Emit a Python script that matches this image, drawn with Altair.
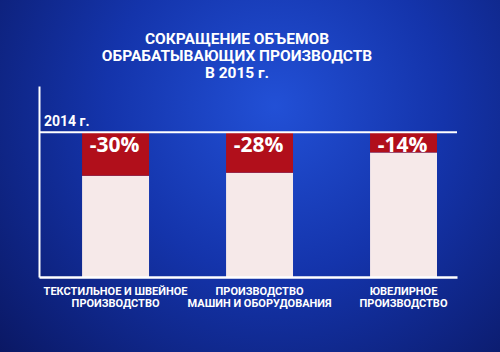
import altair as alt
import pandas as pd

categories = [
    "ТЕКСТИЛЬНОЕ И ШВЕЙНОЕ\nПРОИЗВОДСТВО",
    "ПРОИЗВОДСТВО\nМАШИН И ОБОРУДОВАНИЯ",
    "ЮВЕЛИРНОЕ\nПРОИЗВОДСТВО",
]
decline = [30, 28, 14]          # % reduction vs 2014
labels = ["-30%", "-28%", "-14%"]
title_lines = ["СОКРАЩЕНИЕ ОБЪЕМОВ", "ОБРАБАТЫВАЮЩИХ ПРОИЗВОДСТВ", "В 2015 г."]
base_label = "2014 г."

df = pd.DataFrame({"cat": categories, "drop": decline, "label": labels})

W, H = 418, 191
FONT = "Roboto"
CREAM = "#f6e9e9"
RED = "#b10f1b"

x_enc = alt.X(
    "cat:N",
    sort=categories,
    scale=alt.Scale(paddingInner=0.535, paddingOuter=0.219, align=0.683),
    axis=alt.Axis(
        title=None, labelAngle=0, ticks=False, domainColor="white", domainWidth=2.5,
        labelColor="white", labelFont=FONT, labelFontWeight="bold", labelFontSize=11,
        labelLineHeight=11.5, labelPadding=8.5, labelExpr="split(datum.value, '\\n')",
        zindex=2,
    ),
)
y_scale = alt.Scale(domain=[0, 132], nice=False)
y_axis = alt.Axis(title=None, labels=False, ticks=False, grid=False,
                  domainColor="white", domainWidth=2, zindex=2)

base = alt.Chart(df).transform_calculate(remain="100 - datum.drop")

bg = alt.Chart(alt.Data(values=[{}])).mark_rect(
    color=alt.RadialGradient(
        gradient="radial", x1=0.55, y1=0.36, r1=0.0, x2=0.55, y2=0.36, r2=0.75,
        stops=[
            alt.GradientStop(offset=0, color="#2250d6"),
            alt.GradientStop(offset=0.45, color="#1434ab"),
            alt.GradientStop(offset=1, color="#0a1762"),
        ],
    )
).encode(x=alt.value(-39), x2=alt.value(461), y=alt.value(-86), y2=alt.value(266))

white = base.mark_bar(color=CREAM).encode(
    x=x_enc, y=alt.Y("remain:Q", scale=y_scale, axis=y_axis), y2=alt.datum(0)
)
red = base.mark_bar(color=RED).encode(
    x=x_enc, y=alt.Y("remain:Q", scale=y_scale, axis=y_axis), y2=alt.datum(100)
)
pct = base.mark_text(
    color="white", font="Open Sans", fontWeight="bold", fontSize=21,
    baseline="alphabetic", dy=19.5, dx=-1,
).encode(x=x_enc, y=alt.datum(100), text="label:N")

top_rule = alt.Chart(alt.Data(values=[{}])).mark_rule(color="white", strokeWidth=2).encode(
    y=alt.datum(100)
)
base_txt = alt.Chart(alt.Data(values=[{}])).mark_text(
    text=base_label, color="white", font=FONT, fontWeight="bold", fontSize=14,
    align="left", baseline="alphabetic", dy=-6,
).encode(x=alt.value(5), y=alt.datum(100))

title_txt = alt.Chart(alt.Data(values=[{}])).mark_text(
    text=title_lines, color="white", font=FONT, fontWeight="bold",
    fontSize=15.5, lineHeight=17, align="center", baseline="alphabetic",
).encode(x=alt.value(198), y=alt.value(-42.5))

chart = alt.layer(bg, white, red, top_rule, pct, base_txt, title_txt).properties(
    width=W, height=H,
    autosize=alt.AutoSizeParams(type="none"),
    padding={"left": 39, "top": 86, "right": 43, "bottom": 75},
    background="#0c1d78",
).configure_view(stroke=None)

chart.save("out.html", embed_options={"renderer": "svg", "actions": False})
